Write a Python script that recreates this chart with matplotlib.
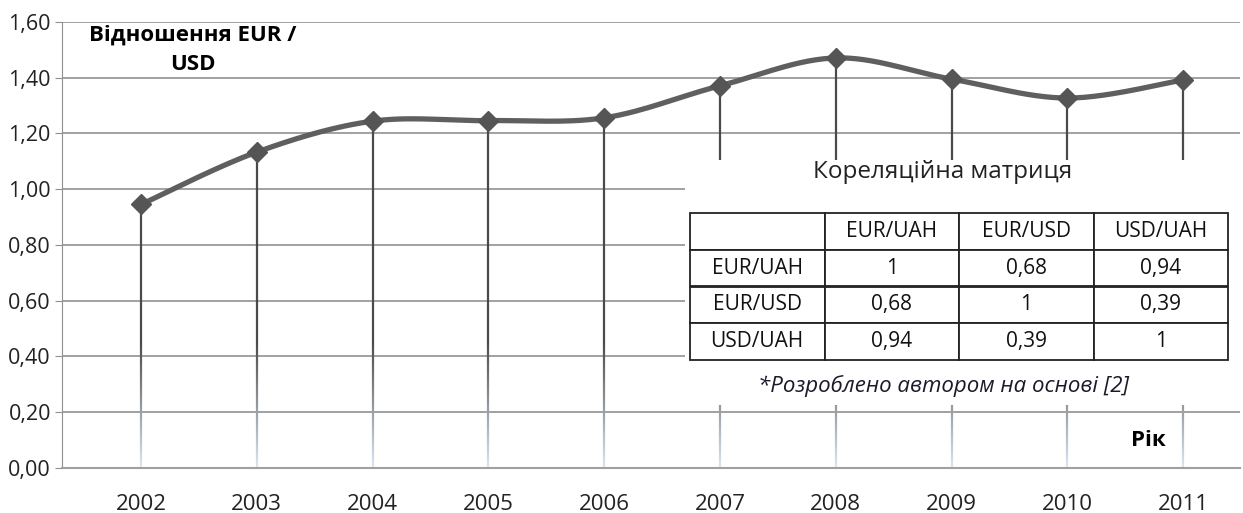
import numpy as np
import matplotlib
matplotlib.use('Agg')
import matplotlib.pyplot as plt
from matplotlib.collections import LineCollection
from matplotlib.patches import Rectangle
from matplotlib.colors import to_rgb

years = [2002, 2003, 2004, 2005, 2006, 2007, 2008, 2009, 2010, 2011]
eur_usd = [0.945, 1.133, 1.244, 1.246, 1.256, 1.371, 1.471, 1.395, 1.327, 1.392]

corr_labels = ['EUR/UAH', 'EUR/USD', 'USD/UAH']
corr_values = [['1', '0,68', '0,94'],
               ['0,68', '1', '0,39'],
               ['0,94', '0,39', '1']]

yticks = [0.0, 0.2, 0.4, 0.6, 0.8, 1.0, 1.2, 1.4, 1.6]

plt.rcParams['font.family'] = ['Open Sans', 'DejaVu Sans']


def smooth(xs, ys, n=30):
    # excel-like smoothed line: cubic bezier through the points
    xs = np.asarray(xs, float)
    ys = np.asarray(ys, float)
    px = np.concatenate([[xs[0]], xs, [xs[-1]]])
    py = np.concatenate([[ys[0]], ys, [ys[-1]]])
    out_x, out_y = [], []
    t = np.linspace(0, 1, n)
    for i in range(1, len(px) - 2):
        p0 = np.array([px[i], py[i]])
        p3 = np.array([px[i + 1], py[i + 1]])
        c1 = p0 + (np.array([px[i + 1], py[i + 1]]) - np.array([px[i - 1], py[i - 1]])) / 6
        c2 = p3 - (np.array([px[i + 2], py[i + 2]]) - np.array([px[i], py[i]])) / 6
        b = ((1 - t) ** 3)[:, None] * p0 + (3 * (1 - t) ** 2 * t)[:, None] * c1 \
            + (3 * (1 - t) * t ** 2)[:, None] * c2 + (t ** 3)[:, None] * p3
        out_x.extend(b[:, 0])
        out_y.extend(b[:, 1])
    return out_x, out_y


fig = plt.figure(figsize=(12.43, 5.13), dpi=100)
ax = fig.add_axes([62 / 1243, 45.3 / 513, 1178 / 1243, 445.7 / 513])

ax.set_xlim(2001.318, 2011.49)
ax.set_ylim(0, 1.6)
ax.set_yticks(yticks)
ax.set_yticklabels([f'{v:.2f}'.replace('.', ',') for v in yticks], fontsize=15.5, color='#222222')
ax.set_xticks(years)
ax.set_xticklabels([str(y) for y in years], fontsize=16, color='#222222')
ax.tick_params(axis='x', length=0, pad=19)
ax.tick_params(axis='y', length=5, color='#909090', pad=3)
ax.grid(axis='y', color='#9a9a9a', linewidth=1.3, zorder=0)
for s in ['top', 'right']:
    ax.spines[s].set_visible(False)
ax.spines['left'].set_color('#909090')
ax.spines['bottom'].set_color('#a0a0a0')
ax.spines['bottom'].set_linewidth(1.5)

# drop lines with a fade toward the bottom
dark = np.array(to_rgb('#4a4a4a'))
light = np.array(to_rgb('#dce6f2'))
segs, cols = [], []
for x, y in zip(years, eur_usd):
    yy = np.linspace(0, y, 120)
    for a, b in zip(yy[:-1], yy[1:]):
        m = (a + b) / 2
        f = min(1.0, m / 0.45)
        segs.append([(x, a), (x, b)])
        cols.append(light * (1 - f) + dark * f)
ax.add_collection(LineCollection(segs, colors=cols, linewidths=1.6, zorder=2))

# white panel behind the matrix
ax.add_patch(Rectangle((2006.70, 0.225), 5, 0.88, facecolor='white',
                       edgecolor='none', zorder=3))

sx, sy = smooth(years, eur_usd)
ax.plot(sx, sy, color='#5f5f5f', linewidth=3.8, zorder=4, solid_capstyle='round')
ax.plot(years, eur_usd, linestyle='none', marker='D', markersize=10,
        color='#555555', zorder=5)

ax.text(0.111, 0.995, 'Відношення EUR /\nUSD', transform=ax.transAxes, ha='center',
        va='top', fontsize=16, fontweight='bold', linespacing=1.55, zorder=6)
ax.text(0.922, 0.062, 'Рік', transform=ax.transAxes, ha='center', va='center',
        fontsize=16, fontweight='bold', zorder=6)

fig.text(943 / 1243, 1 - 172 / 513, 'Кореляційна матриця', ha='center', va='center',
         fontsize=17.5, color='#222222')
fig.text(943 / 1243, 1 - 386 / 513, '*Розроблено автором на основі [2]', ha='center',
         va='center', fontsize=16, style='italic', color='#1a1a2a')

tax = fig.add_axes([690 / 1243, 1 - 360 / 513, 538 / 1243, 147 / 513])
tax.axis('off')
cells = [[''] + corr_labels] + [[lab] + row for lab, row in zip(corr_labels, corr_values)]
tbl = tax.table(cellText=cells, bbox=[0, 0, 1, 1], cellLoc='center')
tbl.auto_set_font_size(False)
for (r, c), cell in tbl.get_celld().items():
    cell.set_fontsize(15)
    cell.set_edgecolor('#222222')
    cell.set_linewidth(1.3)
    cell.get_text().set_color('#111111')

fig.savefig('out.png', dpi=100)
